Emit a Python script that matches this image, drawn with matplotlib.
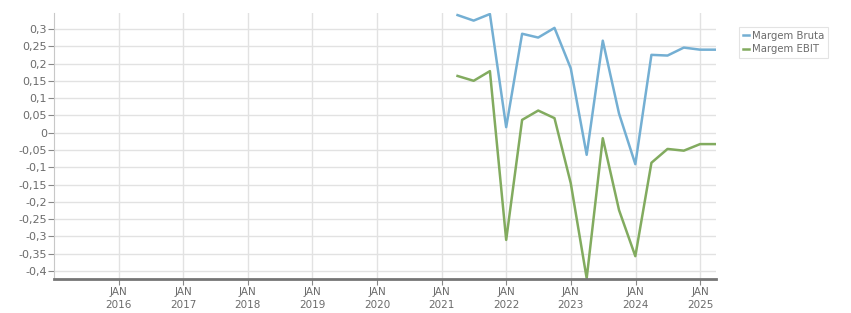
import pandas as pd
import matplotlib
matplotlib.use('Agg')
import matplotlib.pyplot as plt
import matplotlib.dates as mdates
from matplotlib.ticker import FixedLocator, FuncFormatter

# Quarterly dates (quarter ends)
dates = pd.to_datetime([
    '2021-03-31', '2021-06-30', '2021-09-30', '2021-12-31',
    '2022-03-31', '2022-06-30', '2022-09-30', '2022-12-31',
    '2023-03-31', '2023-06-30', '2023-09-30', '2023-12-31',
    '2024-03-31', '2024-06-30', '2024-09-30', '2024-12-31',
    '2025-03-31',
])

margem_bruta = [0.340, 0.324, 0.343, 0.016, 0.286, 0.275, 0.303, 0.186,
                -0.064, 0.266, 0.055, -0.091, 0.225, 0.223, 0.246, 0.240, 0.240]
margem_ebit = [0.164, 0.150, 0.178, -0.310, 0.037, 0.064, 0.042, -0.146,
               -0.421, -0.016, -0.224, -0.357, -0.087, -0.047, -0.052, -0.033, -0.033]

y_ticks = [0.3, 0.25, 0.2, 0.15, 0.1, 0.05, 0, -0.05, -0.1, -0.15, -0.2,
           -0.25, -0.3, -0.35, -0.4]
years = list(range(2016, 2026))

text_color = '#6b6b6b'

fig = plt.figure(figsize=(8.51, 3.13), dpi=100)
ax = fig.add_axes([54 / 851, 34 / 313, (716 - 54) / 851, (279 - 13) / 313])

ax.plot(dates, margem_bruta, color='#74afd3', lw=1.8, label='Margem Bruta')
ax.plot(dates, margem_ebit, color='#82ab5f', lw=1.8, label='Margem EBIT')

ax.set_xlim(pd.Timestamp('2015-01-01'), pd.Timestamp('2025-03-31'))
ax.set_ylim(-0.423, 0.346)

# grid
ax.yaxis.set_major_locator(FixedLocator(y_ticks))
ax.yaxis.set_major_formatter(FuncFormatter(lambda v, p: ('%g' % round(v, 2)).replace('.', ',')))
jan_ticks = [mdates.date2num(pd.Timestamp(f'{y}-01-01')) for y in years]
ax.xaxis.set_major_locator(FixedLocator(jan_ticks))
ax.set_xticklabels([f'JAN\n{y}' for y in years])
ax.grid(True, color='#e2e2e2', lw=1)
ax.set_axisbelow(True)

for s in ['top', 'right']:
    ax.spines[s].set_visible(False)
ax.spines['left'].set_color('#c8c8c8')
ax.spines['bottom'].set_color('#767676')
ax.spines['bottom'].set_linewidth(2)

ax.tick_params(axis='y', length=4, color='#888888', labelcolor=text_color, labelsize=8, pad=1)
ax.tick_params(axis='x', length=4, color='#888888', labelcolor=text_color, labelsize=7.5, pad=1.5)
for lab in ax.get_xticklabels():
    lab.set_linespacing(1.45)

leg = fig.legend(loc='upper left', bbox_to_anchor=(739 / 851, 1 - 27 / 313),
                 fontsize=7.3, frameon=True, fancybox=False, handlelength=0.6,
                 handletextpad=0.3, borderpad=0.35, labelspacing=0.35,
                 borderaxespad=0)
leg.get_frame().set_edgecolor('#dddddd')
leg.get_frame().set_linewidth(0.8)
for t in leg.get_texts():
    t.set_color(text_color)

fig.savefig('out.png', dpi=100)
